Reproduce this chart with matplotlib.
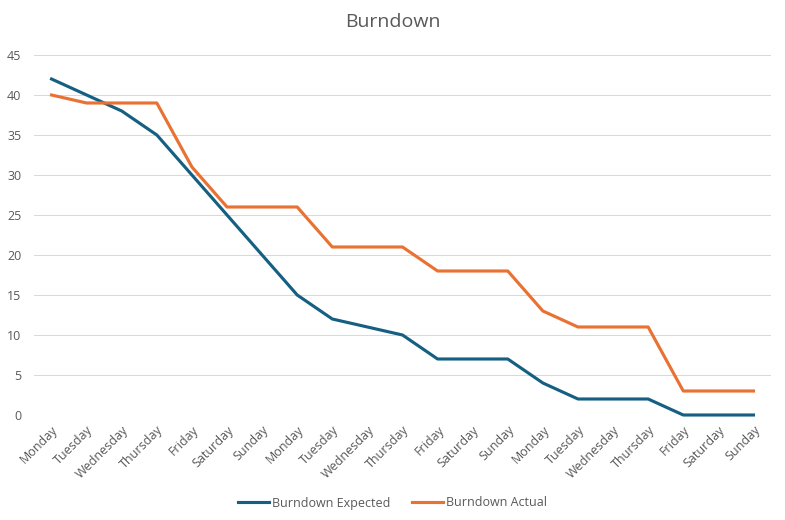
import matplotlib.pyplot as plt

plt.rcParams['font.family'] = ['Open Sans', 'DejaVu Sans']

# --- Data ---
days = ["Monday", "Tuesday", "Wednesday", "Thursday", "Friday", "Saturday", "Sunday",
        "Monday", "Tuesday", "Wednesday", "Thursday", "Friday", "Saturday", "Sunday",
        "Monday", "Tuesday", "Wednesday", "Thursday", "Friday", "Saturday", "Sunday"]
expected = [42, 40, 38, 35, 30, 25, 20, 15, 12, 11, 10, 7, 7, 7, 4, 2, 2, 2, 0, 0, 0]
actual = [40, 39, 39, 39, 31, 26, 26, 26, 21, 21, 21, 18, 18, 18, 13, 11, 11, 11, 3, 3, 3]

TEXT = '#595959'
GRID = '#d9d9d9'

fig = plt.figure(figsize=(7.85, 5.2), dpi=100)
ax = fig.add_axes([34 / 785, 105 / 520, 737 / 785, 360 / 520])

x = list(range(len(days)))
ax.plot(x, expected, color='#156082', lw=2.25, label='Burndown Expected',
        solid_joinstyle='round', clip_on=False)
ax.plot(x, actual, color='#E97132', lw=2.25, label='Burndown Actual',
        solid_joinstyle='round', clip_on=False)

ax.set_xlim(-0.5, len(days) - 0.5)
ax.set_ylim(0, 45)
ax.set_yticks(range(0, 50, 5))
ax.set_xticks(x)
ax.set_xticklabels(days, rotation=45, ha='right', rotation_mode='anchor')
ax.tick_params(axis='both', colors=TEXT, labelsize=9, length=0)
ax.tick_params(axis='x', pad=6)
ax.tick_params(axis='y', pad=9)

ax.grid(axis='y', color=GRID, lw=0.75)
ax.set_axisbelow(True)
for s in ax.spines.values():
    s.set_visible(False)

fig.text(0.5, 1 - 22 / 520, 'Burndown', ha='center', va='center', fontsize=14, color=TEXT)

fig.legend(loc='center', bbox_to_anchor=(0.5, 1 - 503 / 520), ncol=2, frameon=False,
           fontsize=9, labelcolor=TEXT, handlelength=2.5, columnspacing=1.75, handletextpad=0.2)

fig.savefig('out.png', dpi=100)
